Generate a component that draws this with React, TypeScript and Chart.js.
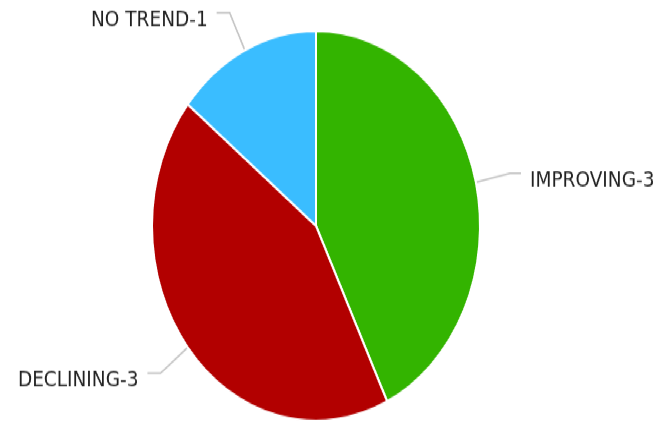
import React, { useEffect, useRef } from "react";
import { Chart, registerables } from "chart.js";

Chart.register(...registerables);

const categories = ["IMPROVING", "DECLINING", "NO TREND"];
const values = [3, 3, 1];
const colors = ["#33b400", "#b20000", "#3abdff"];

const SCALE_Y = 422 / 355;

const leaderPlugin = {
  id: "leaderLabels",
  afterDraw(chart: any) {
    const ctx = chart.ctx;
    const meta = chart.getDatasetMeta(0);
    ctx.save();
    ctx.font = "18.5px 'DejaVu Sans', Verdana, sans-serif";
    ctx.textBaseline = "middle";
    meta.data.forEach((arc: any, i: number) => {
      const { x, y, startAngle, endAngle, outerRadius } = arc.getProps(
        ["x", "y", "startAngle", "endAngle", "outerRadius"],
        true
      );
      const mid = (startAngle + endAngle) / 2;
      const cos = Math.cos(mid);
      const sin = Math.sin(mid);
      const sx = x + cos * (outerRadius + 1);
      const sy = y + sin * (outerRadius + 1);
      const ex = x + cos * (outerRadius + 35);
      const ey = y + sin * (outerRadius + 35);
      const right = cos >= 0;
      const hx = ex + (right ? 11 : -13);
      ctx.strokeStyle = "#c4c4c4";
      ctx.lineWidth = 1.6;
      ctx.beginPath();
      ctx.moveTo(sx, sy);
      ctx.lineTo(ex, ey);
      ctx.lineTo(hx, ey);
      ctx.stroke();
      const label = categories[i] + "-" + values[i];
      ctx.fillStyle = "#222222";
      ctx.textAlign = right ? "left" : "right";
      ctx.fillText(label, hx + (right ? 9 : -9), ey + 6.5);
    });
    ctx.restore();
  },
};

export default function App() {
  const ref = useRef<HTMLCanvasElement | null>(null);
  useEffect(() => {
    if (!ref.current) return;
    const chart = new Chart(ref.current, {
      type: "pie",
      data: {
        labels: categories,
        datasets: [
          {
            data: values,
            backgroundColor: colors,
            borderColor: "#ffffff",
            borderWidth: 2,
            radius: 164,
          } as any,
        ],
      },
      options: {
        animation: false,
        responsive: false,
        devicePixelRatio: 1,
        layout: { padding: { top: 25, bottom: 0, left: 0, right: 31 } },
        plugins: {
          legend: { display: false },
          tooltip: { enabled: false },
        },
      },
      plugins: [leaderPlugin],
    });
    return () => chart.destroy();
  }, []);
  return (
    <div
      style={{
        position: "absolute",
        left: 0,
        top: 0,
        width: 663,
        height: 355,
        transform: `scaleY(${SCALE_Y})`,
        transformOrigin: "0 0",
        background: "#ffffff",
      }}
    >
      <canvas ref={ref} width={663} height={355} />
    </div>
  );
}
